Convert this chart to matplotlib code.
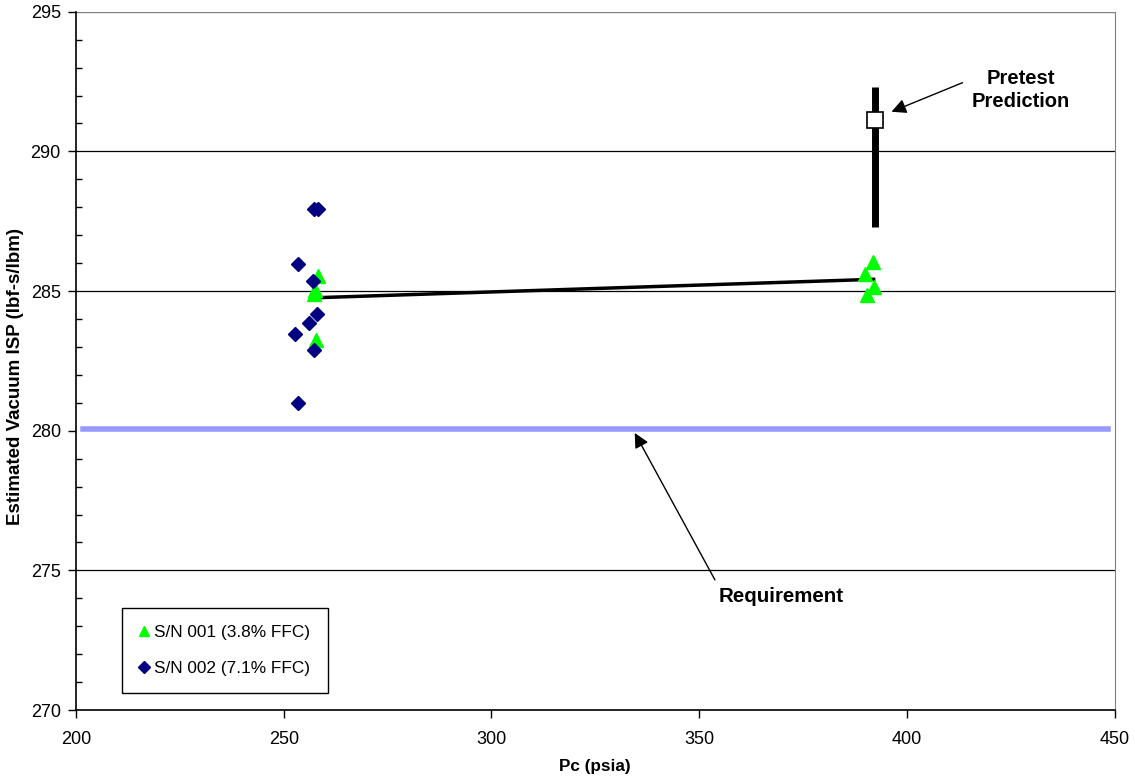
import matplotlib.pyplot as plt
from matplotlib.ticker import MultipleLocator

plt.rcParams['font.family'] = ['Liberation Sans', 'DejaVu Sans']

# S/N 001 (3.8% FFC)
sn001_pc = [258.2, 257.6, 257.2, 257.8, 391.8, 389.9, 392.0, 390.3]
sn001_isp = [285.55, 285.05, 284.9, 283.25, 286.05, 285.62, 285.15, 284.86]

# S/N 002 (7.1% FFC)
sn002_pc = [257.4, 258.2, 253.4, 257.0, 258.0, 256.1, 252.7, 257.3, 253.4]
sn002_isp = [287.93, 287.93, 285.97, 285.37, 284.18, 283.86, 283.47, 282.89, 280.99]

# trend line
trend_pc = [257.5, 392.0]
trend_isp = [284.76, 285.42]

# pretest prediction with uncertainty
pred_pc = 392.3
pred_isp = 291.13
pred_lo = 287.3
pred_hi = 292.3

req_isp = 280.05
req_pc = [201.7, 448.3]

fig = plt.figure(figsize=(11.35, 7.82), dpi=100)
ax = fig.add_axes([0.067, 0.092, 0.915, 0.893])

ax.set_xlim(200, 450)
ax.set_ylim(270, 295)

for yv in [275, 285, 290]:
    ax.axhline(yv, color='black', lw=0.9, zorder=1)
ax.axhline(295, color='#808080', lw=1.0, zorder=1)

ax.plot(req_pc, [req_isp, req_isp], color='#9999FF', lw=4, zorder=2)

ax.plot(trend_pc, trend_isp, color='black', lw=2.5, zorder=3)

ax.plot([pred_pc, pred_pc], [pred_lo, pred_hi], color='black', lw=5, solid_capstyle='butt', zorder=3)
ax.plot([pred_pc], [pred_isp], marker='s', ms=11, mfc='white', mec='black', mew=1.2, zorder=5)

ax.plot(sn001_pc, sn001_isp, linestyle='none', marker='^', ms=10, color='#00FF00',
        label='S/N 001 (3.8% FFC)', zorder=4)
ax.plot(sn002_pc, sn002_isp, linestyle='none', marker='D', ms=7.5, color='#000080',
        label='S/N 002 (7.1% FFC)', zorder=4)

# callouts
ax.text(427.5, 292.2, 'Pretest\nPrediction', ha='center', va='center',
        fontsize=14.5, fontweight='bold', linespacing=1.3)
ax.annotate('', xy=(396.3, 291.42), xytext=(413.4, 292.46),
            arrowprops=dict(arrowstyle='-|>', color='black', lw=1.0,
                            mutation_scale=22, shrinkA=0, shrinkB=0))
ax.text(369.8, 274.05, 'Requirement', ha='center', va='center',
        fontsize=14.8, fontweight='bold')
ax.annotate('', xy=(334.5, 279.92), xytext=(353.8, 274.66),
            arrowprops=dict(arrowstyle='-|>', color='black', lw=1.0,
                            mutation_scale=22, shrinkA=0, shrinkB=0))

ax.xaxis.set_major_locator(MultipleLocator(50))
ax.yaxis.set_major_locator(MultipleLocator(5))
ax.yaxis.set_minor_locator(MultipleLocator(1))
ax.tick_params(axis='both', which='major', direction='out', length=6, labelsize=13, width=1)
ax.tick_params(axis='x', which='major', pad=9)
ax.tick_params(axis='y', which='major', pad=5)
ax.tick_params(axis='y', which='minor', direction='in', length=4, width=1)

ax.spines['top'].set_visible(False)
ax.spines['right'].set_color('#808080')
ax.spines['left'].set_linewidth(1.2)
ax.spines['bottom'].set_linewidth(1.2)

ax.set_xlabel('Pc (psia)', fontsize=12.3, fontweight='bold', labelpad=8)
ax.set_ylabel('Estimated Vacuum ISP (lbf-s/lbm)', fontsize=13.5, fontweight='bold')
ax.yaxis.set_label_coords(-0.05, 0.477)

leg = ax.legend(loc='lower left', bbox_to_anchor=(0.044, 0.024), borderaxespad=0,
                fancybox=False, edgecolor='black', framealpha=1, fontsize=12.4,
                handlelength=0.6, handletextpad=0.3, labelspacing=1.2,
                borderpad=1.0, markerscale=0.75)
leg.get_frame().set_linewidth(1.0)

fig.savefig('out.png', dpi=100)
